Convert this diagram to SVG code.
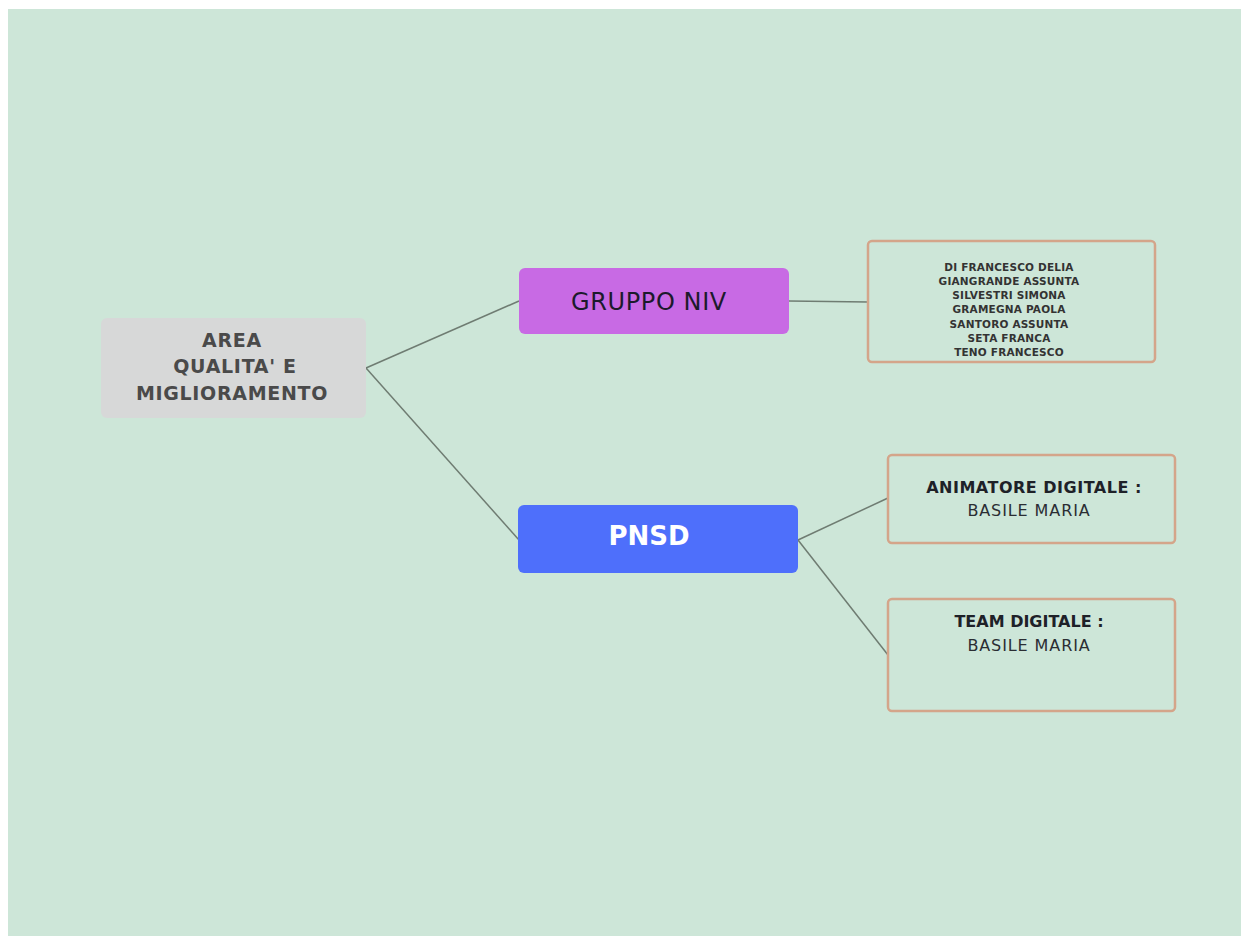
<svg xmlns="http://www.w3.org/2000/svg" width="1241" height="936" viewBox="0 0 1241 936">
<style>
.conn{stroke:#6f7c72;stroke-width:1.5;fill:none}
.leaf{fill:none;stroke:#d4a58a;stroke-width:2.5}
.t{font-family:"DejaVu Sans",Verdana,sans-serif;text-anchor:middle}
.small{font-size:10.5px;font-weight:bold;fill:#333;letter-spacing:0.2px}
.lb{font-size:16px;font-weight:bold;fill:#1e2128;letter-spacing:0.5px}
.ln{font-size:16px;fill:#2a2d33;letter-spacing:0.9px}
</style>
<rect x="0" y="0" width="1241" height="936" fill="#ffffff"/>
<rect x="8" y="9" width="1233" height="927" fill="#cde6d8"/>
<g id="connectors">
<line class="conn" x1="366" y1="368" x2="519" y2="301"/>
<line class="conn" x1="366" y1="368" x2="519" y2="540"/>
<line class="conn" x1="789" y1="301" x2="868" y2="302"/>
<line class="conn" x1="798" y1="540" x2="888" y2="498"/>
<line class="conn" x1="798" y1="540" x2="888" y2="655"/>
</g>
<g id="area">
<rect x="101" y="318" width="265" height="100" rx="6" fill="#d7d8d8"/>
<text class="t" font-size="19" font-weight="bold" fill="#4a4a4a" letter-spacing="0.7"><tspan x="232" y="347">AREA</tspan><tspan x="235" y="373">QUALITA' E</tspan><tspan x="232" y="400">MIGLIORAMENTO</tspan></text>
</g>
<g id="gruppo">
<rect x="519" y="268" width="270" height="66" rx="6" fill="#c86ae4"/>
<text class="t" x="649" y="310" font-size="24" fill="#1c1a2c" letter-spacing="0.6">GRUPPO NIV</text>
</g>
<g id="pnsd">
<rect x="518" y="505" width="280" height="68" rx="6" fill="#4e6ffb"/>
<text class="t" x="649" y="545" font-size="26" font-weight="bold" fill="#ffffff">PNSD</text>
</g>
<g id="names">
<rect class="leaf" x="868" y="241" width="287" height="121" rx="4"/>
<text class="t small"><tspan x="1009" y="271">DI FRANCESCO DELIA</tspan><tspan x="1009" y="285">GIANGRANDE ASSUNTA</tspan><tspan x="1009" y="299">SILVESTRI SIMONA</tspan><tspan x="1009" y="313">GRAMEGNA PAOLA</tspan><tspan x="1009" y="328">SANTORO ASSUNTA</tspan><tspan x="1009" y="342">SETA FRANCA</tspan><tspan x="1009" y="356">TENO FRANCESCO</tspan></text>
</g>
<g id="animatore">
<rect class="leaf" x="888" y="455" width="287" height="88" rx="4"/>
<text class="t lb" x="1034" y="493">ANIMATORE DIGITALE :</text>
<text class="t ln" x="1029" y="516">BASILE MARIA</text>
</g>
<g id="team">
<rect class="leaf" x="888" y="599" width="287" height="112" rx="4"/>
<text class="t lb" x="1029" y="627" style="letter-spacing:0">TEAM DIGITALE :</text>
<text class="t ln" x="1029" y="651">BASILE MARIA</text>
</g>
</svg>
